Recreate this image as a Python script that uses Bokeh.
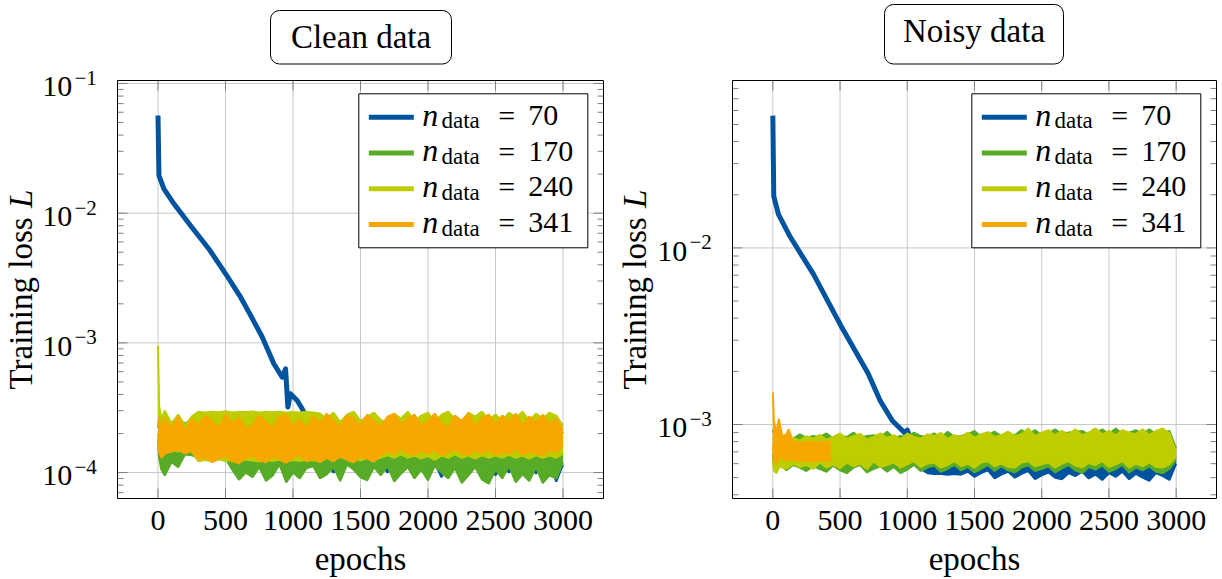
import math
from bokeh.plotting import figure
from bokeh.layouts import row
from bokeh.models import Label, BoxAnnotation, Range1d
from bokeh.embed import file_html
from bokeh.resources import INLINE

FONT = "Liberation Serif"
BLUE, GREEN, YELLOW, ORANGE = "#00549F", "#57AB27", "#BDCD00", "#F6A800"

# ---------------- data (loss values in units of 1e-4) ----------------
x_ticks = [0, 500, 1000, 1500, 2000, 2500, 3000]
legend_n = ["70", "170", "240", "341"]
epochs = [0, 8, 25] + list(range(50, 3001, 50))
band_start = 24  # blue noise band starts at epoch 1100

# Clean data
clean_blue_trend_ep = [0, 7, 44, 118, 242, 377, 501, 612, 686, 772, 858, 920, 945, 962, 981, 1031, 1068, 1090, 1120, 1190]
clean_blue_trend = [566, 195, 154, 118, 80, 53, 34.1, 22.5, 16.3, 11.1, 6.9, 5.45, 6.3, 3.2, 4.05, 3.6, 3.1, 2.8, 2.6, 2.75]
clean_blue_lo = [1.18, 1.18, 1.18, 1.18, 1.0, 1.18, 1.18, 1.18, 1.18, 1.18, 1.18, 1.18, 1.0, 1.18, 1.18, 1.18, 1.18, 1.18,
                 1.18, 1.18, 0.92, 1.18, 1.18, 1.18, 1.18, 1.18, 1.18, 1.18, 0.95, 1.18, 1.0, 1.18, 1.18, 1.18, 0.98,
                 1.18, 1.18, 0.85, 1.15]
clean_blue_hi = [2.2, 2.1, 2.2, 2.1, 2.2, 2.1, 2.2, 2.1, 2.2, 2.1, 2.2, 2.1, 2.2, 2.1, 2.2, 2.1, 2.2, 2.1, 2.2, 2.1,
                 2.2, 2.1, 2.2, 2.1, 2.2, 2.1, 2.2, 2.1, 2.2, 2.1, 2.2, 2.1, 2.2, 2.1, 2.2, 2.1, 2.2, 2.1, 2.0]
clean_g_lo = [1.7, 1.3, 1.05, 0.95, 1.2, 1.1, 1.38, 1.36, 1.3, 1.28, 1.3, 1.27, 1.28, 1.05, 0.88, 1.0, 0.92, 1.1,
              0.86, 0.95, 1.15, 0.84, 1.0, 0.9, 1.08, 1.12, 0.9, 0.97, 1.1, 0.86, 1.15, 1.05, 0.92, 0.87, 1.1, 0.95,
              1.12, 0.85, 0.98, 1.1, 0.9, 1.05, 0.87, 1.12, 1.0, 0.9, 1.08, 0.83, 0.95, 1.1, 0.88, 0.82, 1.05, 0.9,
              1.12, 0.84, 0.97, 0.86, 1.1, 0.83, 0.95, 0.9, 1.2]
clean_g_hi = [2.2, 2.4, 2.3, 2.5, 2.3, 2.5, 2.4, 2.5, 2.3, 2.5, 2.4, 2.5, 2.3, 2.5, 2.4, 2.5, 2.3, 2.5, 2.4, 2.5,
              2.3, 2.5, 2.4, 2.5, 2.3, 2.5, 2.4, 2.5, 2.3, 2.5, 2.4, 2.5, 2.3, 2.5, 2.4, 2.5, 2.3, 2.5, 2.4, 2.5,
              2.3, 2.5, 2.4, 2.5, 2.3, 2.5, 2.4, 2.5, 2.3, 2.5, 2.4, 2.5, 2.3, 2.5, 2.4, 2.5, 2.3, 2.5, 2.4, 2.5,
              2.3, 2.5, 2.0]
clean_y_lo = [2.0, 1.5, 1.35, 1.4, 1.5, 1.45, 1.5, 1.45,
              1.22, 1.25, 1.22, 1.26, 1.23, 1.25, 1.22, 1.26, 1.24, 1.22, 1.25, 1.23, 1.26, 1.22, 1.25, 1.23, 1.26, 1.24, 1.25,
              1.3, 1.25, 1.32, 1.27, 1.3, 1.24, 1.3, 1.26, 1.3, 1.36, 1.3, 1.38, 1.3, 1.35, 1.28, 1.34, 1.25, 1.35, 1.3, 1.38,
              1.3, 1.35, 1.28, 1.36, 1.3, 1.35, 1.3, 1.37, 1.3, 1.35, 1.28, 1.36, 1.3, 1.35, 1.3, 1.4]
clean_y_hi = [9.5, 3.3, 2.6, 3.0, 2.4, 2.8, 2.3, 2.7,
              2.95, 2.9, 2.95, 2.92, 2.97, 2.9, 2.95, 2.93, 2.96, 2.9, 2.94, 2.92, 2.95, 2.9, 2.93, 2.9, 2.95, 2.9, 2.85,
              2.6, 2.9, 2.45, 2.8, 2.95, 2.5, 2.7, 2.9, 2.55, 2.4, 2.85, 2.6, 2.95, 2.5, 2.75, 2.9, 2.45, 2.8, 2.95,
              2.6, 2.5, 2.9, 2.7, 2.95, 2.55, 2.8, 2.5, 2.9, 2.65, 2.95, 2.5, 2.85, 2.6, 2.9, 2.75, 2.3]
clean_o_lo = [1.8, 1.45, 1.3, 1.4, 1.45, 1.5, 1.4, 1.48,
              1.25, 1.32, 1.2, 1.28, 1.36, 1.22, 1.18, 1.3, 1.35, 1.24, 1.2, 1.33, 1.26, 1.19, 1.3, 1.36, 1.22, 1.28, 1.2,
              1.3, 1.22, 1.35, 1.25, 1.2, 1.33, 1.28, 1.21, 1.38, 1.46, 1.4, 1.52, 1.42, 1.37, 1.48, 1.4, 1.5, 1.36,
              1.44, 1.52, 1.4, 1.38, 1.47, 1.42, 1.5, 1.37, 1.45, 1.4, 1.52, 1.38, 1.46, 1.41, 1.36, 1.48, 1.44, 1.6]
clean_o_hi = [2.3, 2.7, 2.1, 2.6, 2.2, 2.7, 2.1, 2.6,
              2.3, 2.75, 2.5, 2.2, 2.8, 2.4, 2.65, 2.2, 2.3, 2.75, 2.45, 2.2, 2.7, 2.8, 2.3, 2.55, 2.2, 2.7, 2.4,
              2.85, 2.5, 2.25, 2.75, 2.6, 2.3, 2.8, 2.45, 2.25, 2.7, 2.85, 2.35, 2.6, 2.8, 2.3, 2.5, 2.85, 2.4, 2.2,
              2.75, 2.5, 2.85, 2.3, 2.6, 2.8, 2.35, 2.75, 2.5, 2.85, 2.3, 2.7, 2.45, 2.8, 2.35, 2.6, 2.1]

# Noisy data
noisy_blue_trend_ep = [0, 7, 42, 128, 302, 505, 708, 797, 889, 978, 1000, 1040, 1100, 1160]
noisy_blue_trend = [561, 196, 155, 116, 71, 36.4, 19.5, 13.7, 10.5, 9.0, 9.3, 7.8, 6.5, 5.4]
noisy_blue_lo = [5.6, 5.3, 5.25, 5.25, 5.2, 5.25, 5.2, 5.4, 5.05, 5.3, 5.5, 4.95, 5.2, 5.4, 5.0, 5.25, 5.45, 4.9, 5.15,
                 5.35, 5.0, 4.9, 5.3, 5.1, 5.4, 4.95, 5.2, 4.85, 5.3, 5.05, 5.4, 4.9, 5.25, 5.0, 4.8, 5.3, 5.1, 4.85, 6.0]
noisy_blue_hi = [7.0, 6.9, 7.0, 6.9, 7.0, 6.9, 7.0, 6.9, 7.0, 6.9, 7.0, 6.9, 7.0, 6.9, 7.0, 6.9, 7.0, 6.9, 7.0, 6.9,
                 7.0, 6.9, 7.0, 6.9, 7.0, 6.9, 7.0, 6.9, 7.0, 6.9, 7.0, 6.9, 7.0, 6.9, 7.0, 6.9, 7.0, 6.9, 6.8]
noisy_g_lo = [6.8, 5.8, 5.6, 6.0, 5.5, 5.9, 5.7, 5.45, 5.8, 5.6, 5.4, 5.85, 5.5, 5.3, 5.7, 5.9, 5.35, 5.6, 5.8, 5.4,
              5.75, 5.3, 5.55, 5.9, 5.45, 5.7, 5.85, 5.4, 5.6, 5.9, 5.5, 5.75, 5.35, 5.6, 5.9, 5.45, 5.8, 5.5, 5.35, 5.7,
              5.9, 5.45, 5.6, 5.8, 5.35, 5.65, 5.9, 5.5, 5.3, 5.75, 5.55, 5.85, 5.4, 5.6, 5.9, 5.35, 5.7, 5.5, 5.8, 5.4,
              5.3, 5.6, 6.3]
noisy_g_hi = [9.3, 8.8, 8.6, 8.4, 8.7, 8.3, 8.8, 8.4, 8.6, 8.5, 8.9, 8.3, 8.6, 8.5, 9.0, 8.4, 8.6, 8.7, 8.5, 9.1,
              8.4, 8.6, 8.5, 9.0, 8.6, 8.5, 8.9, 8.4, 9.1, 8.5, 8.6, 8.8, 9.2, 8.5, 8.7, 9.1, 8.6, 8.8, 8.7, 9.3,
              8.8, 9.3, 8.7, 8.9, 9.4, 8.8, 9.0, 9.1, 9.2, 8.8, 8.9, 9.4, 8.8, 9.5, 8.9, 9.0, 9.3, 8.8, 9.4, 8.8,
              9.0, 9.2, 7.3]
noisy_y_lo = [6.2, 5.5, 5.3, 5.8, 5.6, 6.0, 5.75, 5.9, 5.6, 6.1, 5.7, 5.95, 5.65, 6.1, 5.8, 6.0, 5.6, 6.2, 5.75, 5.9,
              6.1, 5.7, 5.95, 6.2, 5.75, 6.0, 6.1, 5.7, 5.9, 6.2, 5.8, 6.0, 5.7, 6.1, 6.2, 5.8, 6.0, 5.75, 5.7, 6.1,
              6.2, 5.8, 5.95, 6.1, 5.7, 6.0, 6.2, 5.85, 5.7, 6.05, 5.9, 6.2, 5.75, 5.95, 6.2, 5.7, 6.0, 5.8, 6.1, 5.75,
              5.7, 5.95, 6.6]
noisy_y_hi = [8.5, 8.2, 8.0, 8.3, 8.0, 8.4, 8.1, 8.6, 8.3, 8.75, 8.2, 8.5, 8.9, 8.3, 8.6, 8.85, 8.2, 8.5, 8.9, 8.4,
              8.7, 8.25, 8.9, 8.5, 8.3, 8.8, 8.6, 8.95, 8.3, 8.7, 8.5, 9.0, 8.4, 8.8, 9.05, 8.5, 8.7, 9.1, 8.6, 8.8,
              9.5, 8.6, 9.0, 9.3, 8.7, 9.2, 8.8, 9.4, 8.7, 9.0, 9.5, 8.8, 9.2, 8.7, 9.3, 9.0, 8.8, 9.4, 8.7, 9.2,
              9.5, 8.9, 7.0]
noisy_o_ep = [0, 8, 25, 45, 70, 100, 118, 150, 200, 250, 300, 350, 400, 433]
noisy_o_hi = [15.2, 10.5, 9.0, 10.8, 8.6, 8.8, 9.4, 8.0, 7.9, 7.9, 7.95, 7.9, 7.95, 7.9]
noisy_o_lo = [7.6, 6.3, 5.9, 6.6, 6.4, 6.2, 6.5, 6.3, 6.25, 6.25, 6.2, 6.25, 6.25, 6.25]

for arr in [clean_g_lo, clean_g_hi, clean_y_lo, clean_y_hi, clean_o_lo, clean_o_hi,
            noisy_g_lo, noisy_g_hi, noisy_y_lo, noisy_y_hi]:
    assert len(arr) == len(epochs), len(arr)
for arr in [clean_blue_lo, clean_blue_hi, noisy_blue_lo, noisy_blue_hi]:
    assert len(arr) == len(epochs) - band_start, len(arr)

BASE = 0.34  # text anchor correction (em) so that labels sit on the wanted baseline


def sc(v):
    return [a * 1e-4 for a in v]


def build_panel(fig_left, frame_left, frame_w, right_pad, logr, ytick_exps, title, title_base, title_box,
                ylab_x, trend_ep, trend, bands):
    fig_top, frame_top, frame_h, height = 0, 80, 418, 579
    frame_bot = frame_top + frame_h
    x0, x1 = -300, 3300
    l0, l1 = logr
    fr = frame_left + frame_w
    fc = frame_left + frame_w / 2
    width = (frame_left - fig_left) + frame_w + right_pad

    def X(px):
        return x0 + (px - frame_left) / frame_w * (x1 - x0)

    def Y(py):
        return 10 ** (l1 - (py - frame_top) / frame_h * (l1 - l0))

    p = figure(width=width, height=height,
               x_range=Range1d(X(fig_left), X(fig_left + width)),
               y_range=Range1d(Y(fig_top + height), Y(fig_top)),
               y_axis_type="log", x_axis_location=None, y_axis_location=None,
               output_backend="svg", toolbar_location=None, min_border=0)
    p.outline_line_color = None
    p.background_fill_color = "white"
    p.border_fill_color = "white"
    p.grid.visible = False

    decades = [10.0 ** k for k in range(-6, 1) if l0 <= k <= l1]
    minors = [m * 10.0 ** k for k in range(-6, 0) for m in range(2, 10) if l0 < math.log10(m * 10.0 ** k) < l1]

    # grid
    p.segment(x0=x_ticks, y0=[Y(frame_bot)] * len(x_ticks), x1=x_ticks, y1=[Y(frame_top)] * len(x_ticks),
              line_color="#c8c8c8", line_width=1)
    p.segment(x0=[X(frame_left)] * len(decades), y0=decades, x1=[X(fr)] * len(decades), y1=decades,
              line_color="#c8c8c8", line_width=1)

    # series
    for xs, lo, hi, color in bands:
        p.varea(x=xs, y1=sc(lo), y2=sc(hi), fill_color=color, fill_alpha=1.0)
        p.line(xs, sc(lo), line_color=color, line_width=2)
        p.line(xs, sc(hi), line_color=color, line_width=2)
        if color == BLUE:
            p.line(trend_ep, sc(trend), line_color=BLUE, line_width=5, line_join="round")

    # ticks (inside, on all four sides)
    tc = "#808080"
    n = len(x_ticks)
    p.segment(x0=x_ticks, y0=[Y(frame_bot)] * n, x1=x_ticks, y1=[Y(frame_bot - 10)] * n, line_color=tc, line_width=1)
    p.segment(x0=x_ticks, y0=[Y(frame_top)] * n, x1=x_ticks, y1=[Y(frame_top + 10)] * n, line_color=tc, line_width=1)
    for vals, ln in [(decades, 10), (minors, 6)]:
        m = len(vals)
        p.segment(x0=[X(frame_left)] * m, y0=vals, x1=[X(frame_left + ln)] * m, y1=vals, line_color=tc, line_width=1)
        p.segment(x0=[X(fr)] * m, y0=vals, x1=[X(fr - ln)] * m, y1=vals, line_color=tc, line_width=1)

    # axes box
    p.quad(left=[X(frame_left)], right=[X(fr)], top=[Y(frame_top)], bottom=[Y(frame_bot)],
           fill_color=None, line_color="black", line_width=1)

    def lab(px, py, text, size, align="left", style="normal", rotated=False):
        if rotated:
            px, py, ang = px - BASE * size, py, math.pi / 2
        else:
            px, py, ang = px, py - BASE * size, 0.0
        p.add_layout(Label(x=X(px), y=Y(py), text=text, text_align=align, text_baseline="alphabetic",
                           text_font=FONT, text_font_size=f"{size}px", text_font_style=style,
                           text_color="black", angle=ang))

    # title in a rounded box
    bl, br, bt, bb = title_box
    p.add_layout(BoxAnnotation(left=X(bl), right=X(br), top=Y(bt), bottom=Y(bb), fill_color="white",
                               fill_alpha=1.0, line_color="black", line_alpha=1.0, line_width=1,
                               border_radius=9))
    lab((bl + br) / 2, title_base, title, 33, align="center")

    # x tick labels
    for t in x_ticks:
        lab(frame_left + (t - x0) / (x1 - x0) * frame_w, 530, str(t), 30, align="center")

    # y tick labels
    for k in ytick_exps:
        gy = frame_top + (l1 - k) / (l1 - l0) * frame_h
        lab(frame_left - 45.3, gy + 13.5, "10", 30, align="right")
        lab(frame_left - 43, gy + 1.5, "\u2212" + str(-k), 21)

    # axis labels
    lab(fc, 570, "epochs", 33, align="center")
    lab(ylab_x, 389, "Training loss", 33, rotated=True)
    lab(ylab_x, 207.5, "L", 33, style="italic", rotated=True)

    # legend
    p.add_layout(BoxAnnotation(left=X(fr - 244.7), right=X(fr - 15.7), top=Y(93.3), bottom=Y(247.3),
                               fill_color="white", fill_alpha=1.0, line_color="black", line_alpha=1.0,
                               line_width=1))
    rows_y = [116.7, 152.5, 188.3, 224.0]
    for ry, color, num in zip(rows_y, [BLUE, GREEN, YELLOW, ORANGE], legend_n):
        p.add_layout(BoxAnnotation(left=X(fr - 234.7), right=X(fr - 189.7), top=Y(ry - 2.5), bottom=Y(ry + 2.5),
                                   fill_color=color, fill_alpha=1.0, line_color=None))
        lab(fr - 181.3, ry + 8.3, "n", 32, style="italic")
        lab(fr - 162.0, ry + 11.6, "data", 23)
        lab(fr - 96.7, ry + 8.3, "=", 30, align="center")
        lab(fr - 75.3, ry + 8.3, num, 30)
    return p


ep_band = epochs[band_start:]
p1 = build_panel(0, 117, 486, 7, (-4.2, -0.977), [-1, -2, -3, -4], "Clean data", 48, (270, 451, 10, 63.5), 32,
                 clean_blue_trend_ep, clean_blue_trend,
                 [(ep_band, clean_blue_lo, clean_blue_hi, BLUE),
                  (epochs, clean_g_lo, clean_g_hi, GREEN),
                  (epochs, clean_y_lo, clean_y_hi, YELLOW),
                  (epochs, clean_o_lo, clean_o_hi, ORANGE)])
p2 = build_panel(610, 732, 484, 6, (-3.419, -1.052), [-2, -3], "Noisy data", 41.5, (884, 1063, 4, 63.5), 645.5,
                 noisy_blue_trend_ep, noisy_blue_trend,
                 [(ep_band, noisy_blue_lo, noisy_blue_hi, BLUE),
                  (epochs, noisy_g_lo, noisy_g_hi, GREEN),
                  (epochs, noisy_y_lo, noisy_y_hi, YELLOW),
                  (noisy_o_ep, noisy_o_lo, noisy_o_hi, ORANGE)])

layout = row(p1, p2)
open("out.html", "w").write(file_html(layout, INLINE))
